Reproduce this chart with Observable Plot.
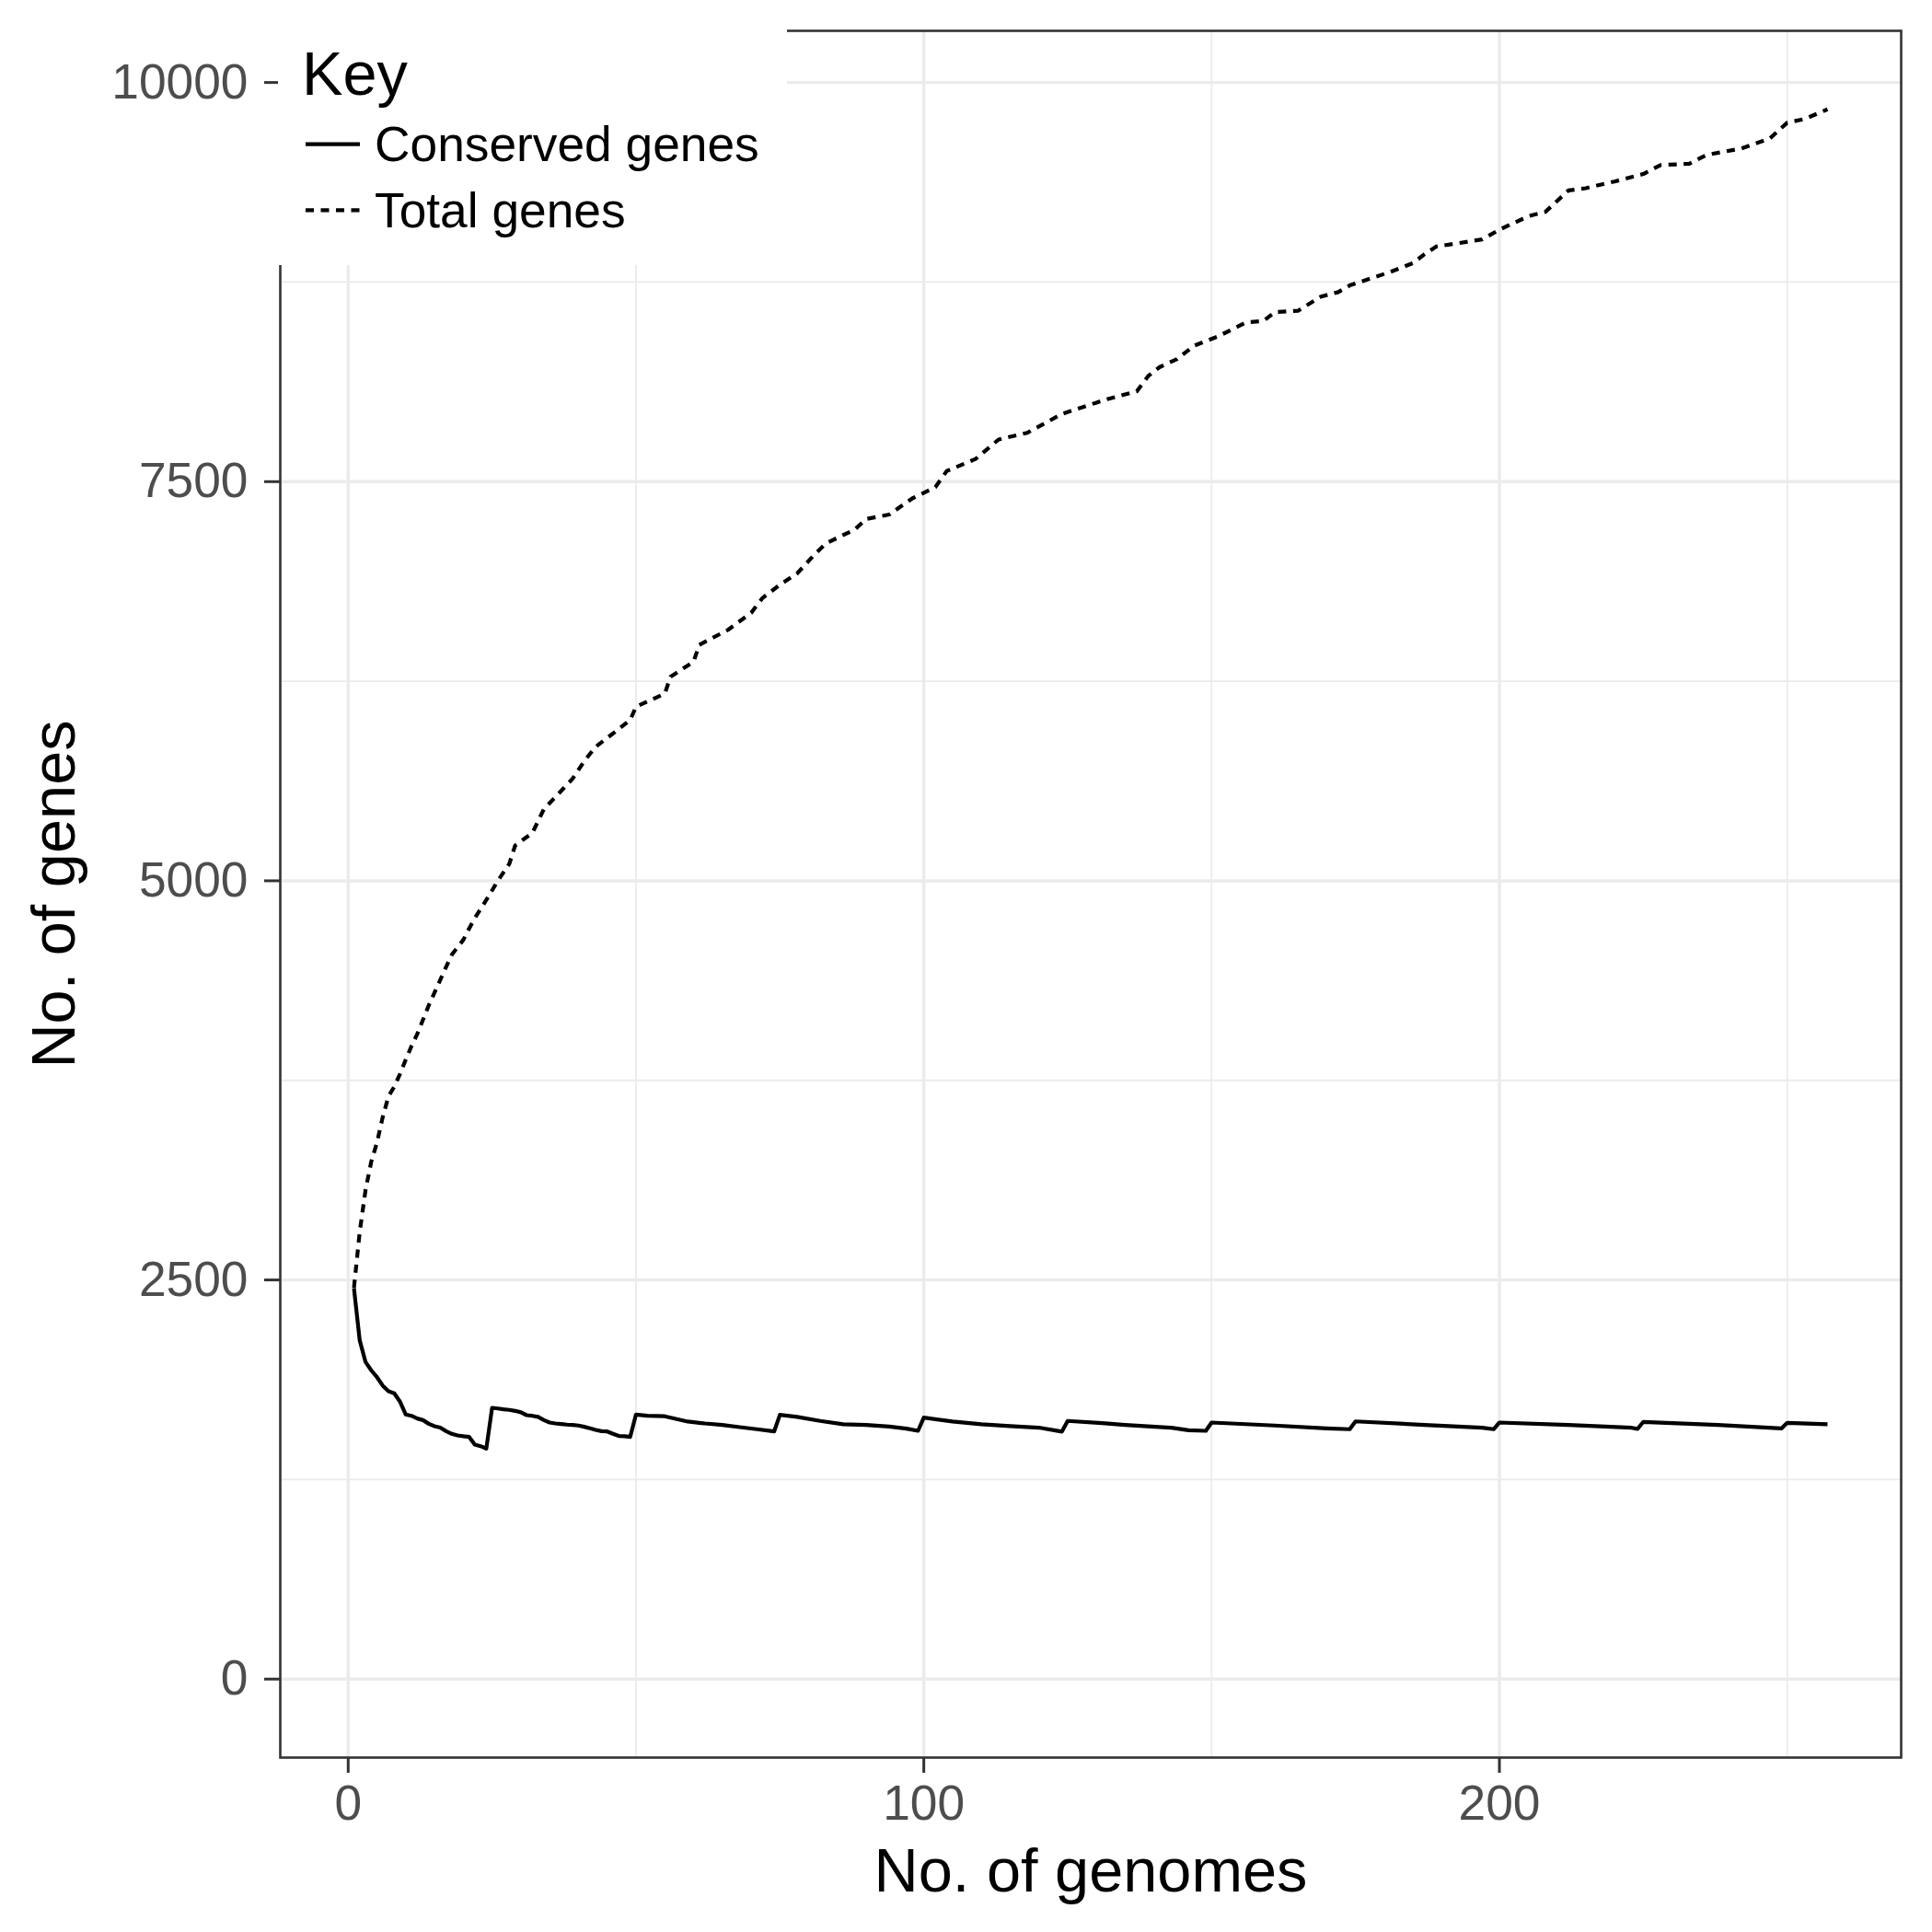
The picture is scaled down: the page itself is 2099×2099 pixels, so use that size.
<!DOCTYPE html>
<html>
<head>
<meta charset="utf-8">
<script src="https://cdn.jsdelivr.net/npm/d3@7"></script>
<script src="https://cdn.jsdelivr.net/npm/@observablehq/plot@0.6"></script>
<style>
  html, body { margin: 0; padding: 0; background: #ffffff; }
  svg { display: block; }
</style>
</head>
<body>
<script>
// ---- data ----
const conservedGenomes = [1,2,3,4,5,6,7,8,9,10,11,12,13,14,15,16,17,18,19,20,21,22,23,24,25,26,27,28,29,30,31,32,33,34,35,36,37,38,39,40,41,42,43,44,45,46,47,48,49,50,52,55,59,62,65,68,71,74,75,78,82,86,90,94,97,99,100,105,110,115,120,124,125,131,135,143,146,149,150,161,170,174,175,187,197,199,200,212,223,224,225,238,249,250,257];
const conservedGenes = [2448,2122,1987,1934,1891,1838,1803,1790,1738,1657,1649,1632,1622,1599,1584,1575,1553,1536,1526,1521,1517,1469,1459,1444,1699,1695,1690,1686,1680,1671,1653,1649,1642,1622,1607,1601,1598,1594,1592,1588,1580,1571,1561,1553,1551,1536,1523,1521,1517,1657,1649,1646,1613,1601,1592,1578,1565,1551,1655,1642,1617,1596,1592,1582,1569,1555,1638,1613,1596,1584,1575,1550,1617,1603,1592,1574,1559,1555,1607,1588,1570,1565,1614,1592,1574,1565,1607,1592,1574,1567,1611,1592,1570,1605,1596];

const totalGenomes = [1,2,3,4,5,6,7,8,9,10,11,12,13,14,15,17,18,20,21,22,24,26,28,29,32,34,37,39,41,43,47,49,50,55,56,60,61,66,70,72,75,78,81,83,88,90,94,98,102,104,109,113,118,124,130,132,137,139,141,144,147,151,156,159,161,165,169,172,174,181,185,187,189,197,200,205,208,212,215,220,225,228,233,236,242,247,250,253,257];
const totalGenes = [2450,2800,3060,3240,3360,3520,3650,3710,3790,3880,3965,4040,4130,4220,4300,4460,4537,4630,4700,4766,4880,5000,5107,5221,5300,5449,5563,5640,5749,5840,5950,6008,6090,6172,6278,6372,6478,6572,6678,6772,6854,6925,7043,7113,7200,7266,7294,7395,7465,7567,7642,7764,7806,7924,7995,8018,8065,8162,8218,8268,8352,8408,8497,8506,8562,8570,8659,8687,8729,8813,8869,8925,8972,9017,9078,9162,9190,9324,9338,9380,9427,9483,9491,9547,9586,9650,9748,9771,9832];

const xMajorTicks = [0, 100, 200];
const xMinorTicks = [50, 150, 250];
const yMajorTicks = [0, 2500, 5000, 7500, 10000];
const yMinorTicks = [1250, 3750, 6250, 8750];
const xTitle = "No. of genomes";
const yTitle = "No. of genes";
const legendTitle = "Key";
const legendLabels = ["Conserved genes", "Total genes"];

const conserved = conservedGenomes.map((g, i) => ({genomes: g, genes: conservedGenes[i]}));
const total = totalGenomes.map((g, i) => ({genomes: g, genes: totalGenes[i]}));

const FONT = "'Liberation Sans', Arial, Helvetica, sans-serif";
const DASH = "9,7.5";
const LW = 4.2;
const TITLE_SIZE = 66.7;
const TEXT_SIZE = 53.3;

const chart = Plot.plot({
  width: 2099,
  height: 2099,
  marginLeft: 304,
  marginRight: 34,
  marginTop: 33,
  marginBottom: 190,
  style: {fontFamily: FONT, background: "#ffffff", overflow: "visible"},
  x: {domain: [-11.8, 269.8]},
  y: {domain: [-491.6, 10323.6]},
  marks: [
    Plot.gridX(xMinorTicks, {stroke: "#ebebeb", strokeOpacity: 1, strokeWidth: 1.8}),
    Plot.gridY(yMinorTicks, {stroke: "#ebebeb", strokeOpacity: 1, strokeWidth: 1.8}),
    Plot.gridX(xMajorTicks, {stroke: "#ebebeb", strokeOpacity: 1, strokeWidth: 3.4}),
    Plot.gridY(yMajorTicks, {stroke: "#ebebeb", strokeOpacity: 1, strokeWidth: 3.4}),
    Plot.line(total, {x: "genomes", y: "genes", stroke: "#000000", strokeWidth: LW, strokeDasharray: DASH, strokeLinejoin: "round", strokeLinecap: "butt"}),
    Plot.line(conserved, {x: "genomes", y: "genes", stroke: "#000000", strokeWidth: LW, strokeLinejoin: "round", strokeLinecap: "butt"}),
    Plot.frame({stroke: "#333333", strokeWidth: 2.6}),
    Plot.axisX(xMajorTicks, {tickSize: 17, tickPadding: 13, fontSize: TEXT_SIZE, stroke: "#333333", fill: "#4d4d4d", strokeWidth: 3, label: null, tickFormat: d => String(d)}),
    Plot.axisY(yMajorTicks, {tickSize: 17, tickPadding: 18, fontSize: TEXT_SIZE, stroke: "#333333", fill: "#4d4d4d", strokeWidth: 3, label: null, tickFormat: d => String(d)}),
    Plot.text([xTitle], {text: d => d, frameAnchor: "bottom", textAnchor: "middle", dy: 145, fontSize: TITLE_SIZE, lineAnchor: "bottom", fill: "#000000"}),
    Plot.text([yTitle], {text: d => d, frameAnchor: "left", textAnchor: "middle", dx: -224, rotate: -90, fontSize: TITLE_SIZE, lineAnchor: "bottom", fill: "#000000"})
  ]
});

document.body.appendChild(chart);

// ---- legend (inside the panel, top-left, white box over border) ----
const svg = d3.select(chart);
const lg = svg.append("g").attr("font-family", FONT).attr("text-anchor", "start");
lg.append("rect").attr("x", 302).attr("y", 0).attr("width", 553).attr("height", 288).attr("fill", "#ffffff");
lg.append("text").attr("x", 328).attr("y", 103).attr("font-size", TITLE_SIZE).attr("fill", "#000000").attr("text-anchor", "start").text(legendTitle);
const rowsY = [156.7, 228.3];
const baseY = [175, 246.7];
legendLabels.forEach((lab, i) => {
  lg.append("line")
    .attr("x1", 332).attr("x2", 391)
    .attr("y1", rowsY[i]).attr("y2", rowsY[i])
    .attr("stroke", "#000000").attr("stroke-width", LW)
    .attr("stroke-dasharray", i === 1 ? DASH : null);
  lg.append("text").attr("x", 407).attr("y", baseY[i]).attr("font-size", TEXT_SIZE).attr("fill", "#000000").attr("text-anchor", "start").text(lab);
});
</script>
</body>
</html>
